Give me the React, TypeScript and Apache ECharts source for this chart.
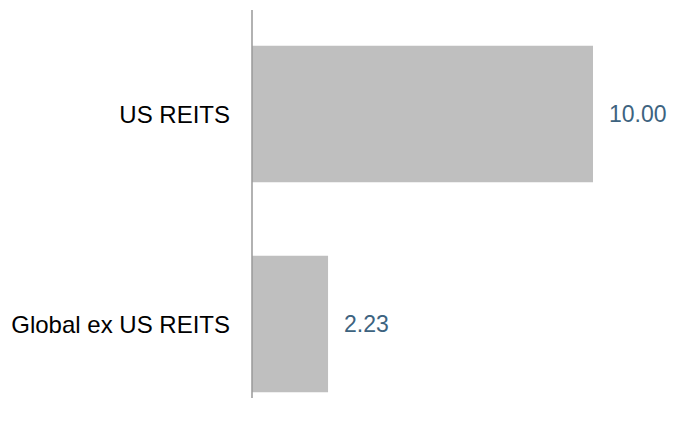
import React, { useEffect, useRef } from "react";
import * as echarts from "echarts";

const categories = ["Global ex US REITS", "US REITS"];
const values = [2.23, 10.0];

export default function App() {
  const ref = useRef<HTMLDivElement>(null);
  useEffect(() => {
    if (!ref.current) return;
    const chart = echarts.init(ref.current, undefined, { renderer: "svg" });
    chart.setOption({
      animation: false,
      grid: { left: 252, top: 9, width: 341, height: 420, outerBoundsMode: "none", containLabel: false },
      xAxis: { type: "value", min: 0, max: 10, show: false },
      yAxis: {
        type: "category",
        data: categories,
        axisLine: { show: false },
        axisTick: { show: false },
        axisLabel: {
          margin: 22,
          fontSize: 24,
          color: "#000",
          fontFamily: "Liberation Sans, Arial, sans-serif",
        },
      },
      series: [
        {
          type: "bar",
          data: values,
          barCategoryGap: "35%",
          itemStyle: { color: "#bfbfbf" },
          label: {
            show: true,
            position: "right",
            distance: 16,
            formatter: (p: any) => p.value.toFixed(2),
            fontSize: 23,
            color: "#3d6380",
            fontFamily: "Liberation Sans, Arial, sans-serif",
          },
        },
      ],
      graphic: [
        {
          type: "line",
          shape: { x1: 252, y1: 10, x2: 252, y2: 398 },
          style: { stroke: "#999999", lineWidth: 1.5 },
          z: 10,
        },
      ],
    });
    return () => chart.dispose();
  }, []);
  return <div ref={ref} style={{ width: 677, height: 426, position: "absolute", left: 0, top: 0 }} />;
}
